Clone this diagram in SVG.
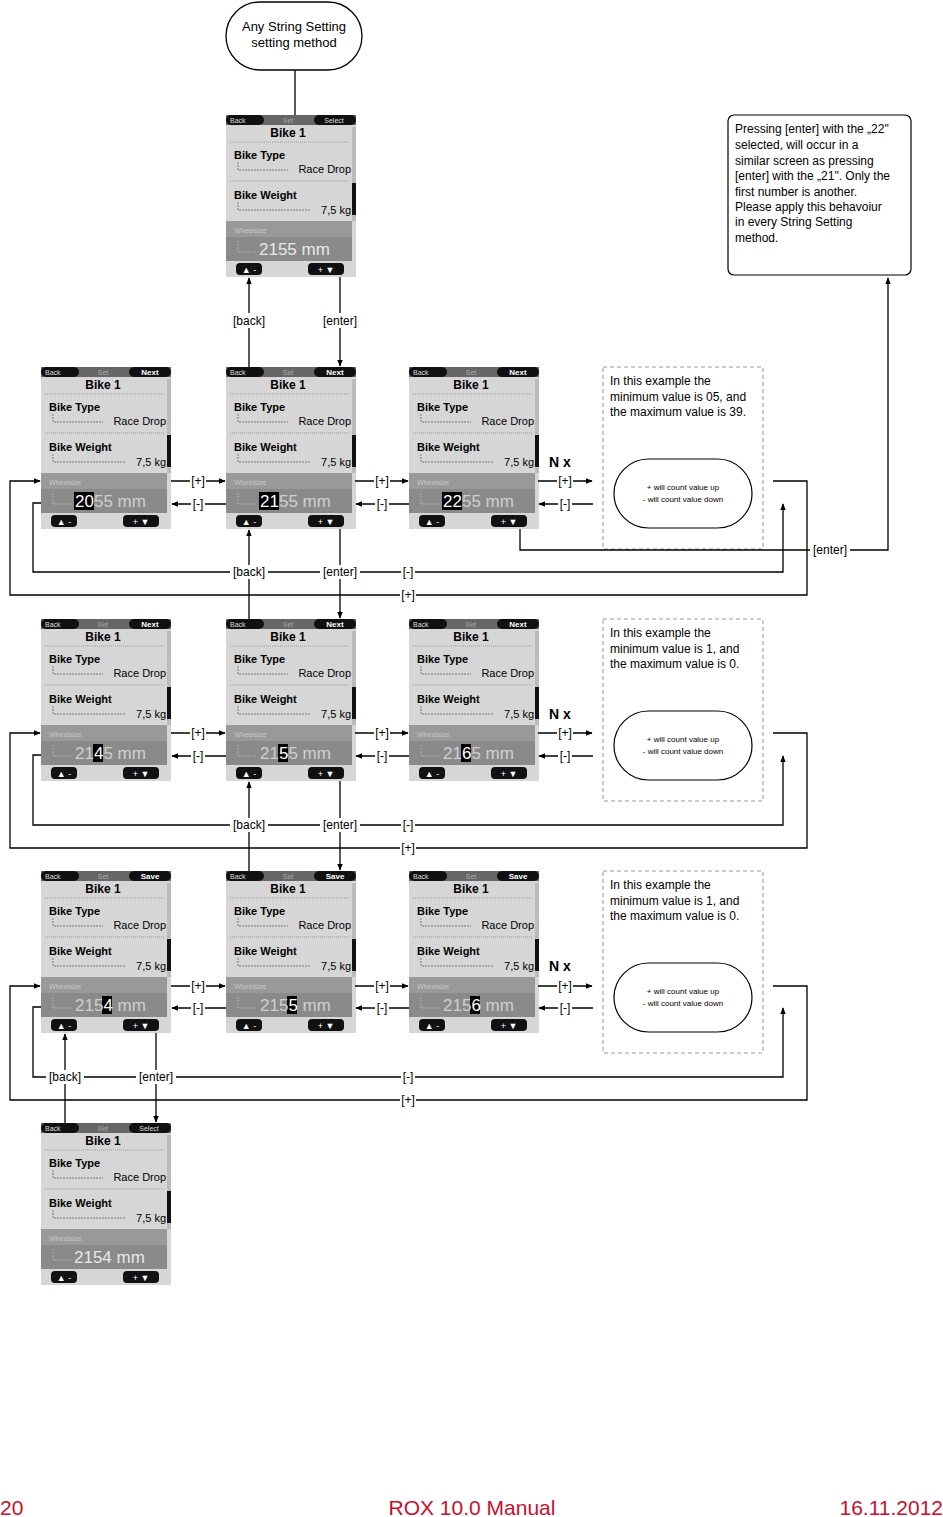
<svg xmlns="http://www.w3.org/2000/svg" xmlns:xlink="http://www.w3.org/1999/xlink" width="943" height="1517" viewBox="0 0 943 1517">
<style>
text{font-family:"Liberation Sans",Arial,sans-serif}
.ln{fill:none;stroke:#000;stroke-width:1.3}
.ar{fill:none;stroke:#000;stroke-width:1.3;marker-end:url(#ah)}
.lb{font-size:12px;text-anchor:middle}
.b{font-weight:bold;font-size:11px}
.r{font-size:11px;text-anchor:end}
.val{font-size:17px;fill:#e8e8e8}
.hl{fill:#fff}
.dim{fill:#d0d0d0}
.note{font-size:12px}
.sm{font-size:8px;text-anchor:middle}
</style>
<defs>
<marker id="ah" viewBox="0 0 10 10" refX="9" refY="5" markerWidth="7" markerHeight="7" orient="auto" markerUnits="userSpaceOnUse"><path d="M0,1 L10,5 L0,9 z"/></marker>
<g id="scr">
<rect x="0" y="0" width="130" height="162" fill="#d6d6d6"/>
<rect x="0" y="0" width="130" height="10" fill="#666"/>
<rect x="0" y="0" width="38" height="10" rx="5" fill="#111"/>
<rect x="88" y="0" width="42" height="10" rx="5" fill="#111"/>
<text x="4" y="8" font-size="7" fill="#ddd">Back</text>
<text x="62" y="8" font-size="7" fill="#aaa" text-anchor="middle">Set</text>
<text x="62" y="22" font-size="12" font-weight="bold" text-anchor="middle">Bike 1</text>
<line x1="4" y1="27" x2="124" y2="27" stroke="#999" stroke-dasharray="1,1"/>
<text x="8" y="44" class="b">Bike Type</text>
<path d="M12,47 V55 H62" fill="none" stroke="#555" stroke-width="0.7" stroke-dasharray="2,1"/>
<text x="125" y="58" class="r">Race Drop</text>
<line x1="4" y1="66" x2="124" y2="66" stroke="#999" stroke-dasharray="1,1"/>
<text x="8" y="84" class="b">Bike Weight</text>
<path d="M12,87 V95 H84" fill="none" stroke="#555" stroke-width="0.7" stroke-dasharray="2,1"/>
<text x="125" y="99" class="r">7,5 kg</text>
<rect x="126" y="12" width="4" height="94" fill="#bbb"/>
<rect x="126" y="68" width="4" height="32" fill="#111"/>
<rect x="0" y="106" width="126" height="40" fill="#8a8a8a"/>
<rect x="0" y="106" width="126" height="16" fill="#999"/>
<text x="8" y="118" font-size="7" fill="#c8c8c8">Wheelsize</text>
<path d="M12,126 V137 H30" fill="none" stroke="#bbb" stroke-width="0.7" stroke-dasharray="2,1"/>
<rect x="10" y="148" width="26" height="12" rx="4" fill="#111"/>
<rect x="82" y="148" width="36" height="12" rx="4" fill="#111"/>
<text x="23" y="158" font-size="9" fill="#fff" text-anchor="middle">▲ -</text>
<text x="100" y="158" font-size="9" fill="#fff" text-anchor="middle">+ ▼</text>
</g>
</defs>

<g id="start">
<rect x="226" y="2" width="136" height="68" rx="34" fill="#fff" stroke="#000" stroke-width="1.3"/>
<text x="294" y="31" font-size="13" text-anchor="middle">Any String Setting</text>
<text x="294" y="47" font-size="13" text-anchor="middle">setting method</text>
</g>

<g id="note-top">
<rect x="728" y="115" width="183" height="160" rx="6" fill="#fff" stroke="#000" stroke-width="1.2"/>
<text class="note" x="735" y="133">Pressing [enter] with the „22"</text>
<text class="note" x="735" y="149">selected, will occur in a</text>
<text class="note" x="735" y="165">similar screen as pressing</text>
<text class="note" x="735" y="180">[enter] with the „21". Only the</text>
<text class="note" x="735" y="196">first number is another.</text>
<text class="note" x="735" y="211">Please apply this behavoiur</text>
<text class="note" x="735" y="226">in every String Setting</text>
<text class="note" x="735" y="242">method.</text>
</g>

<!-- screens -->
<g id="s0" transform="translate(226,115)"><use xlink:href="#scr"/><text x="108" y="8" font-size="7" fill="#ddd" text-anchor="middle">Select</text><text x="33" y="140" class="val">2155 mm</text></g>

<g id="s11" transform="translate(41,367)"><use xlink:href="#scr"/><text x="109" y="8" font-size="8" font-weight="bold" fill="#fff" text-anchor="middle">Next</text><rect x="33" y="125" width="20" height="18" fill="#000"/><text x="34" y="140" class="val"><tspan class="hl">20</tspan><tspan class="dim">55 mm</tspan></text></g>
<g id="s12" transform="translate(226,367)"><use xlink:href="#scr"/><text x="109" y="8" font-size="8" font-weight="bold" fill="#fff" text-anchor="middle">Next</text><rect x="33" y="125" width="20" height="18" fill="#000"/><text x="34" y="140" class="val"><tspan class="hl">21</tspan><tspan class="dim">55 mm</tspan></text></g>
<g id="s13" transform="translate(409,367)"><use xlink:href="#scr"/><text x="109" y="8" font-size="8" font-weight="bold" fill="#fff" text-anchor="middle">Next</text><rect x="33" y="125" width="20" height="18" fill="#000"/><text x="34" y="140" class="val"><tspan class="hl">22</tspan><tspan class="dim">55 mm</tspan></text></g>

<g id="s21" transform="translate(41,619)"><use xlink:href="#scr"/><text x="109" y="8" font-size="8" font-weight="bold" fill="#fff" text-anchor="middle">Next</text><rect x="52" y="125" width="10" height="18" fill="#000"/><text x="34" y="140" class="val"><tspan class="dim">21</tspan><tspan class="hl">4</tspan><tspan class="dim">5 mm</tspan></text></g>
<g id="s22" transform="translate(226,619)"><use xlink:href="#scr"/><text x="109" y="8" font-size="8" font-weight="bold" fill="#fff" text-anchor="middle">Next</text><rect x="52" y="125" width="10" height="18" fill="#000"/><text x="34" y="140" class="val"><tspan class="dim">21</tspan><tspan class="hl">5</tspan><tspan class="dim">5 mm</tspan></text></g>
<g id="s23" transform="translate(409,619)"><use xlink:href="#scr"/><text x="109" y="8" font-size="8" font-weight="bold" fill="#fff" text-anchor="middle">Next</text><rect x="52" y="125" width="10" height="18" fill="#000"/><text x="34" y="140" class="val"><tspan class="dim">21</tspan><tspan class="hl">6</tspan><tspan class="dim">5 mm</tspan></text></g>

<g id="s31" transform="translate(41,871)"><use xlink:href="#scr"/><text x="109" y="8" font-size="8" font-weight="bold" fill="#fff" text-anchor="middle">Save</text><rect x="61" y="125" width="10" height="18" fill="#000"/><text x="34" y="140" class="val"><tspan class="dim">215</tspan><tspan class="hl">4</tspan><tspan class="dim"> mm</tspan></text></g>
<g id="s32" transform="translate(226,871)"><use xlink:href="#scr"/><text x="109" y="8" font-size="8" font-weight="bold" fill="#fff" text-anchor="middle">Save</text><rect x="61" y="125" width="10" height="18" fill="#000"/><text x="34" y="140" class="val"><tspan class="dim">215</tspan><tspan class="hl">5</tspan><tspan class="dim"> mm</tspan></text></g>
<g id="s33" transform="translate(409,871)"><use xlink:href="#scr"/><text x="109" y="8" font-size="8" font-weight="bold" fill="#fff" text-anchor="middle">Save</text><rect x="61" y="125" width="10" height="18" fill="#000"/><text x="34" y="140" class="val"><tspan class="dim">215</tspan><tspan class="hl">6</tspan><tspan class="dim"> mm</tspan></text></g>

<g id="s4" transform="translate(41,1123)"><use xlink:href="#scr"/><text x="108" y="8" font-size="7" fill="#ddd" text-anchor="middle">Select</text><text x="33" y="140" class="val">2154 mm</text></g>

<!-- notes per row -->
<g id="n1">
<rect x="603" y="367" width="160" height="182" fill="none" stroke="#999" stroke-dasharray="4,3"/>
<text class="note" x="610" y="385">In this example the</text>
<text class="note" x="610" y="401">minimum value is 05, and</text>
<text class="note" x="610" y="416">the maximum value is 39.</text>
<rect x="614" y="459" width="138" height="69" rx="34.5" fill="#fff" stroke="#000" stroke-width="1.2"/>
<text class="sm" x="683" y="490">+ will count value up</text>
<text class="sm" x="683" y="502">- will count value down</text>
</g>
<g id="n2">
<rect x="603" y="619" width="160" height="182" fill="none" stroke="#999" stroke-dasharray="4,3"/>
<text class="note" x="610" y="637">In this example the</text>
<text class="note" x="610" y="653">minimum value is 1, and</text>
<text class="note" x="610" y="668">the maximum value is 0.</text>
<rect x="614" y="711" width="138" height="69" rx="34.5" fill="#fff" stroke="#000" stroke-width="1.2"/>
<text class="sm" x="683" y="742">+ will count value up</text>
<text class="sm" x="683" y="754">- will count value down</text>
</g>
<g id="n3">
<rect x="603" y="871" width="160" height="182" fill="none" stroke="#999" stroke-dasharray="4,3"/>
<text class="note" x="610" y="889">In this example the</text>
<text class="note" x="610" y="905">minimum value is 1, and</text>
<text class="note" x="610" y="920">the maximum value is 0.</text>
<rect x="614" y="963" width="138" height="69" rx="34.5" fill="#fff" stroke="#000" stroke-width="1.2"/>
<text class="sm" x="683" y="994">+ will count value up</text>
<text class="sm" x="683" y="1006">- will count value down</text>
</g>

<g id="connectors">
<line class="ln" x1="295" y1="70" x2="295" y2="115"/>
<!-- top to row1 -->
<line class="ar" x1="249" y1="367" x2="249" y2="278"/>
<line class="ar" x1="340" y1="277" x2="340" y2="366"/>
<!-- row1->row2, row2->row3 middle -->
<line class="ar" x1="249" y1="619" x2="249" y2="530"/>
<line class="ar" x1="340" y1="529" x2="340" y2="618"/>
<line class="ar" x1="249" y1="871" x2="249" y2="782"/>
<line class="ar" x1="340" y1="781" x2="340" y2="870"/>
<!-- row3 -> final -->
<line class="ar" x1="65" y1="1123" x2="65" y2="1034"/>
<line class="ar" x1="156" y1="1033" x2="156" y2="1122"/>
<!-- enter to note -->
<path class="ar" d="M520,529 V550 H888 V278"/>

<!-- row loops -->
<path class="ar" d="M41,503 H33 V572 H783 V504"/>
<path class="ar" d="M773,481 H807 V595 H10 V481 H40"/>
<path class="ar" d="M41,755 H33 V825 H783 V756"/>
<path class="ar" d="M773,733 H807 V848 H10 V733 H40"/>
<path class="ar" d="M41,1007 H33 V1077 H783 V1008"/>
<path class="ar" d="M773,986 H807 V1100 H10 V986 H40"/>

<!-- horizontal +/- -->
<line class="ar" x1="171" y1="481" x2="225" y2="481"/><line class="ar" x1="226" y1="504" x2="172" y2="504"/>
<line class="ar" x1="355" y1="481" x2="408" y2="481"/><line class="ar" x1="409" y1="504" x2="356" y2="504"/>
<line class="ar" x1="538" y1="481" x2="592" y2="481"/><line class="ar" x1="593" y1="504" x2="539" y2="504"/>
<line class="ar" x1="171" y1="733" x2="225" y2="733"/><line class="ar" x1="226" y1="756" x2="172" y2="756"/>
<line class="ar" x1="355" y1="733" x2="408" y2="733"/><line class="ar" x1="409" y1="756" x2="356" y2="756"/>
<line class="ar" x1="538" y1="733" x2="592" y2="733"/><line class="ar" x1="593" y1="756" x2="539" y2="756"/>
<line class="ar" x1="171" y1="986" x2="225" y2="986"/><line class="ar" x1="226" y1="1008" x2="172" y2="1008"/>
<line class="ar" x1="355" y1="986" x2="408" y2="986"/><line class="ar" x1="409" y1="1008" x2="356" y2="1008"/>
<line class="ar" x1="538" y1="986" x2="592" y2="986"/><line class="ar" x1="593" y1="1008" x2="539" y2="1008"/>
</g>

<g id="labels" font-size="12">
<g fill="#fff"><rect x="230" y="313" width="38" height="15"/><rect x="320" y="313" width="40" height="15"/></g>
<text class="lb" x="249" y="325">[back]</text><text class="lb" x="340" y="325">[enter]</text>
<g fill="#fff">
<rect x="190" y="474" width="16" height="14"/><rect x="191" y="497" width="14" height="14"/>
<rect x="374" y="474" width="16" height="14"/><rect x="375" y="497" width="14" height="14"/>
<rect x="557" y="474" width="16" height="14"/><rect x="558" y="497" width="14" height="14"/>
<rect x="190" y="726" width="16" height="14"/><rect x="191" y="749" width="14" height="14"/>
<rect x="374" y="726" width="16" height="14"/><rect x="375" y="749" width="14" height="14"/>
<rect x="557" y="726" width="16" height="14"/><rect x="558" y="749" width="14" height="14"/>
<rect x="190" y="979" width="16" height="14"/><rect x="191" y="1001" width="14" height="14"/>
<rect x="374" y="979" width="16" height="14"/><rect x="375" y="1001" width="14" height="14"/>
<rect x="557" y="979" width="16" height="14"/><rect x="558" y="1001" width="14" height="14"/>
<rect x="230" y="565" width="38" height="14"/><rect x="320" y="565" width="40" height="14"/><rect x="401" y="565" width="14" height="14"/><rect x="400" y="588" width="16" height="14"/><rect x="810" y="543" width="40" height="14"/>
<rect x="230" y="818" width="38" height="14"/><rect x="320" y="818" width="40" height="14"/><rect x="401" y="818" width="14" height="14"/><rect x="400" y="841" width="16" height="14"/>
<rect x="46" y="1070" width="38" height="14"/><rect x="136" y="1070" width="40" height="14"/><rect x="401" y="1070" width="14" height="14"/><rect x="400" y="1093" width="16" height="14"/>
</g>
<text class="lb" x="198" y="485">[+]</text><text class="lb" x="198" y="508">[-]</text>
<text class="lb" x="382" y="485">[+]</text><text class="lb" x="382" y="508">[-]</text>
<text class="lb" x="565" y="485">[+]</text><text class="lb" x="565" y="508">[-]</text>
<text class="lb" x="198" y="737">[+]</text><text class="lb" x="198" y="760">[-]</text>
<text class="lb" x="382" y="737">[+]</text><text class="lb" x="382" y="760">[-]</text>
<text class="lb" x="565" y="737">[+]</text><text class="lb" x="565" y="760">[-]</text>
<text class="lb" x="198" y="990">[+]</text><text class="lb" x="198" y="1012">[-]</text>
<text class="lb" x="382" y="990">[+]</text><text class="lb" x="382" y="1012">[-]</text>
<text class="lb" x="565" y="990">[+]</text><text class="lb" x="565" y="1012">[-]</text>
<text class="lb" x="249" y="576">[back]</text><text class="lb" x="340" y="576">[enter]</text><text class="lb" x="408" y="576">[-]</text><text class="lb" x="408" y="599">[+]</text><text class="lb" x="830" y="554">[enter]</text>
<text class="lb" x="249" y="829">[back]</text><text class="lb" x="340" y="829">[enter]</text><text class="lb" x="408" y="829">[-]</text><text class="lb" x="408" y="852">[+]</text>
<text class="lb" x="65" y="1081">[back]</text><text class="lb" x="156" y="1081">[enter]</text><text class="lb" x="408" y="1081">[-]</text><text class="lb" x="408" y="1104">[+]</text>
<text x="549" y="467" font-size="14" font-weight="bold">N x</text>
<text x="549" y="719" font-size="14" font-weight="bold">N x</text>
<text x="549" y="971" font-size="14" font-weight="bold">N x</text>
</g>

<g id="footer" font-size="21" fill="#c8102e">
<text x="0" y="1515">20</text>
<text x="472" y="1515" text-anchor="middle">ROX 10.0 Manual</text>
<text x="943" y="1515" text-anchor="end">16.11.2012</text>
</g>
</svg>
